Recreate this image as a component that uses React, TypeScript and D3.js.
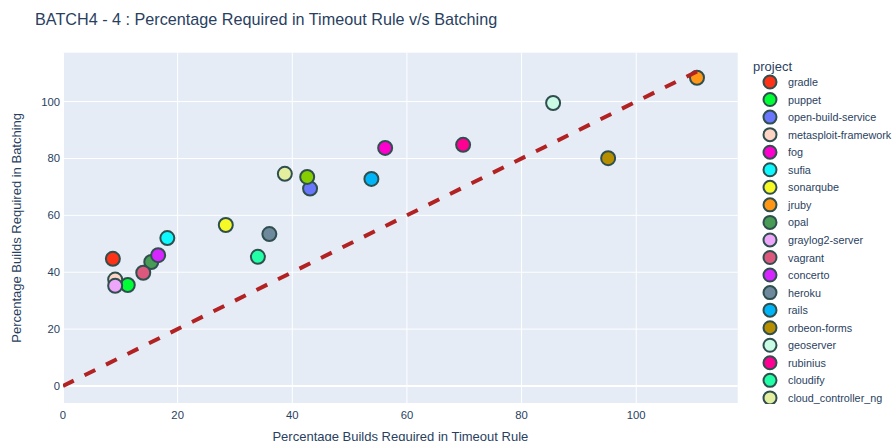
import React from "react";
import * as d3 from "d3";

const projects = [
  "gradle", "puppet", "open-build-service", "metasploit-framework", "fog", "sufia",
  "sonarqube", "jruby", "opal", "graylog2-server", "vagrant", "concerto", "heroku",
  "rails", "orbeon-forms", "geoserver", "rubinius", "cloudify", "cloud_controller_ng", "diaspora",
];
const timeoutPct = [8.7, 11.3, 43.1, 9.1, 56.2, 18.2, 28.4, 110.6, 15.4, 9.1, 14.0, 16.6, 36.0, 53.8, 95.1, 85.5, 69.8, 34.0, 38.7, 42.6];
const batchingPct = [44.7, 35.5, 69.4, 37.4, 83.7, 52.0, 56.6, 108.4, 43.6, 35.2, 39.8, 46.0, 53.4, 72.8, 80.1, 99.5, 84.8, 45.4, 74.6, 73.5];
const colors = [
  "#FD3216", "#00FE35", "#6A76FC", "#FED4C4", "#FE00CE", "#0DF9FF", "#F6F926", "#FF9616",
  "#479B55", "#EEA6FB", "#DC587D", "#D626FF", "#6E899C", "#00B5F7", "#B68E00", "#C9FBE5",
  "#FF0092", "#22FFA7", "#E3EE9E", "#86CE00",
];
const xTicks = [0, 20, 40, 60, 80, 100];
const yTicks = [0, 20, 40, 60, 80, 100];

const FONT = "'Liberation Sans', Arial, sans-serif";
const TXT = "#2a3f5f";

export default function App() {
  const W = 893, H = 441;
  const L = 63, R = 737.7, T = 52.7, B = 403;
  const x = d3.scaleLinear().domain([0, 117.7]).range([L, R]);
  const y = d3.scaleLinear().domain([-6, 117.2]).range([B, T]);
  const maxV = d3.max(timeoutPct) as number;
  const line = d3.line<number>().x((d) => x(d)).y((d) => y(d));

  return (
    <svg width={W} height={H} style={{ position: "absolute", left: 0, top: 0, fontFamily: FONT }}>
      <rect x={0} y={0} width={W} height={H} fill="#fff" />
      <text x={35} y={25} fontSize={16.2} fill={TXT}>
        BATCH4 - 4 : Percentage Required in Timeout Rule v/s Batching
      </text>
      <defs>
        <clipPath id="plotclip">
          <rect x={L} y={T} width={R - L} height={B - T} />
        </clipPath>
        <clipPath id="legclip">
          <rect x={745} y={50} width={148} height={354} />
        </clipPath>
      </defs>
      <rect x={L} y={T} width={R - L} height={B - T} fill="#E5ECF6" />
      {xTicks.map((t) => (
        <line key={"gx" + t} x1={x(t)} x2={x(t)} y1={T} y2={B} stroke="#fff" strokeWidth={t === 0 ? 2 : 1} />
      ))}
      {yTicks.map((t) => (
        <line key={"gy" + t} x1={L} x2={R} y1={y(t)} y2={y(t)} stroke="#fff" strokeWidth={t === 0 ? 2 : 1} />
      ))}
      {xTicks.map((t) => (
        <text key={"tx" + t} x={x(t)} y={B + 16} fontSize={11.3} fill={TXT} textAnchor="middle">{t}</text>
      ))}
      {yTicks.map((t) => (
        <text key={"ty" + t} x={L - 3} y={y(t) + 4} fontSize={11.3} fill={TXT} textAnchor="end">{t}</text>
      ))}
      <text x={(L + R) / 2} y={441} fontSize={13} fill={TXT} textAnchor="middle">
        Percentage Builds Required in Timeout Rule
      </text>
      <text transform={`translate(21,${(T + B) / 2}) rotate(-90)`} fontSize={13} fill={TXT} textAnchor="middle">
        Percentage Builds Required in Batching
      </text>
      <g clipPath="url(#plotclip)">
        {projects.map((p, i) => (
          <circle key={p} cx={x(timeoutPct[i])} cy={y(batchingPct[i])} r={7} fill={colors[i]} stroke="#2F4F4F" strokeWidth={2} />
        ))}
        <path d={line([0, maxV]) || ""} fill="none" stroke="#B22222" strokeWidth={4} strokeDasharray="12,12" />
      </g>
      <text x={753} y={71} fontSize={13} fill={TXT}>project</text>
      <g clipPath="url(#legclip)">
        {projects.map((p, i) => (
          <g key={"l" + p} transform={`translate(0,${82 + i * 17.55})`}>
            <circle cx={770} cy={0} r={6.5} fill={colors[i]} stroke="#2F4F4F" strokeWidth={2} />
            <text x={788} y={4} fontSize={10.8} fill={TXT}>{p}</text>
          </g>
        ))}
      </g>
    </svg>
  );
}
